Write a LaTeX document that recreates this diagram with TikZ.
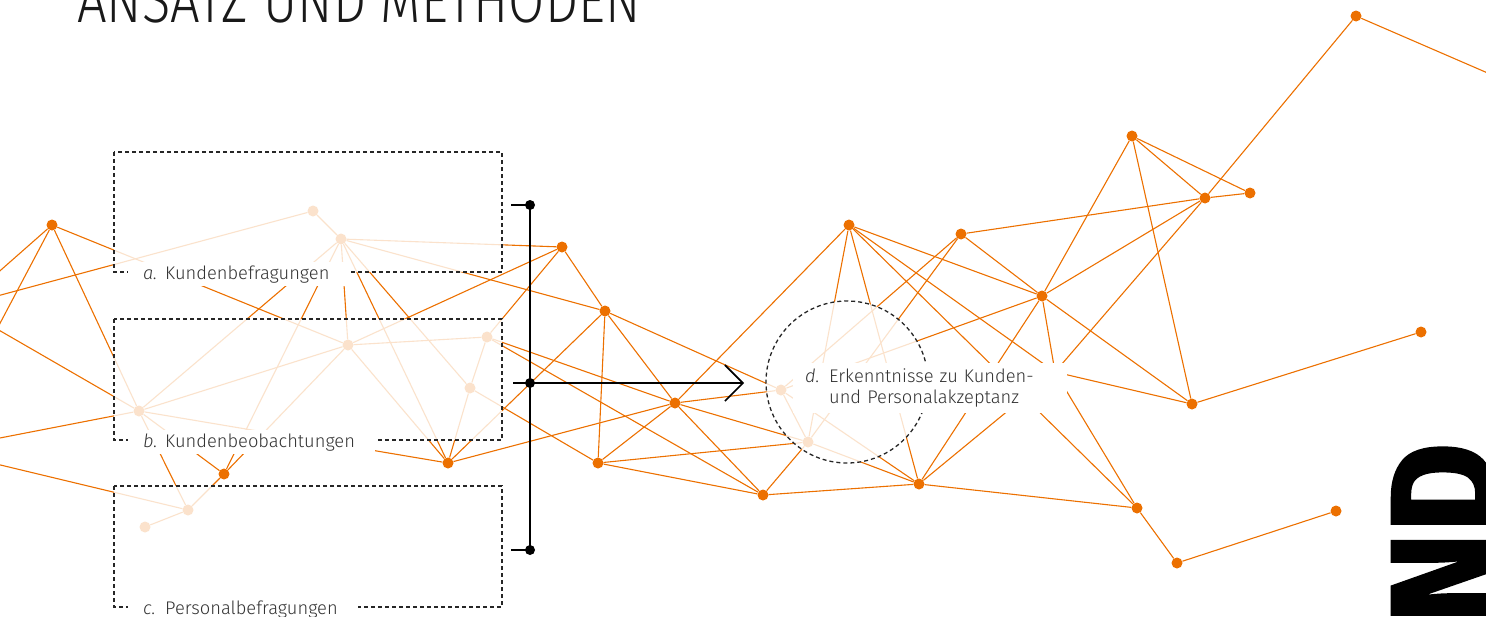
\documentclass[tikz,border=0pt]{standalone}
\usepackage{fontspec}
\usepackage{graphicx}
\usepackage{xcolor}
\usetikzlibrary{arrows.meta}
\setmainfont{Fira Sans Light}
\newfontfamily\titlefont{Fira Sans Light}
\newfontfamily\heavyfont{Fira Sans}[BoldFeatures={FakeBold=2}]
\definecolor{netorange}{HTML}{EC7000}
\definecolor{inkgray}{HTML}{333333}

\begin{document}
\begin{tikzpicture}[x=1pt,y=-1pt,
	dot/.style={circle,fill=netorange,inner sep=0pt,minimum size=11pt},
	link/.style={netorange,line width=1.1pt},
	veil/.style={draw=black!85,dash pattern=on 4pt off 3pt,line width=1.3pt,fill=white,fill opacity=0.8},
	lbl/.style={fill=white,text=inkgray,font=\fontsize{18.3}{21}\selectfont,inner xsep=15pt,inner ysep=3pt},
	bar/.style={black,line width=1.6pt},
	knob/.style={circle,fill=black,inner sep=0pt,minimum size=10pt}]
	\useasboundingbox (0,0) rectangle (1486,616);
	\clip (0,0) rectangle (1486,616);
	\node[anchor=south west,inner sep=0pt,text=black!90](title)at(77,23){\resizebox{563pt}{44pt}{\titlefont ANSATZ UND METHODEN}};
	\node[rotate=90,anchor=north east,inner sep=0pt](nd)at(1392,443){\resizebox{180pt}{102pt}{\heavyfont\bfseries ND}};
	\node[dot](n1)at(52,225){};
	\node[dot](n2)at(562,247){};
	\node[dot](n3)at(605,311){};
	\node[dot](n4)at(675,403){};
	\node[dot](n5)at(598,463){};
	\node[dot](n6)at(763,495){};
	\node[dot](n7)at(849,225){};
	\node[dot](n8)at(961,234){};
	\node[dot](n9)at(1042,296){};
	\node[dot](n10)at(1132,136){};
	\node[dot](n11)at(1205,198){};
	\node[dot](n12)at(1250,193){};
	\node[dot](n13)at(1356,16){};
	\node[dot](n14)at(1421,332){};
	\node[dot](n15)at(1192,404){};
	\node[dot](n16)at(919,484){};
	\node[dot](n17)at(1137,508){};
	\node[dot](n18)at(1177,563){};
	\node[dot](n19)at(1336,511){};
	\node[dot](n20)at(448,463){};
	\node[dot](n21)at(224,474){};
	\node[dot](n22)at(313,211){};
	\node[dot](n23)at(341,239){};
	\node[dot](n24)at(348,345){};
	\node[dot](n25)at(487,337){};
	\node[dot](n26)at(470,388){};
	\node[dot](n27)at(139,411){};
	\node[dot](n28)at(188,510){};
	\node[dot](n29)at(145,527){};
	\node[dot](n30)at(781,390){};
	\node[dot](n31)at(808,442){};
	\coordinate(n32)at(1055,372);
	\coordinate(o1)at(-40,306);
	\coordinate(o2)at(-3,329);
	\coordinate(o3)at(-62,450);
	\coordinate(o4)at(1520,87);
	\foreach \u/\v in {n1/o1,n1/o2,n1/n27,n1/n24,o1/n22,o2/n27,o3/n27,o3/n28,n22/n23,
		n23/n27,n23/n21,n23/n24,n23/n2,n23/n20,n23/n26,n23/n3,
		n24/n25,n24/n2,n24/n20,n24/n21,n24/n27,
		n25/n2,n25/n26,n25/n4,n25/n6,n26/n5,n26/n20,
		n27/n20,n27/n21,n27/n28,n21/n28,n28/n29,
		n20/n3,n20/n4,n2/n3,n3/n4,n3/n5,n3/n30,
		n4/n7,n4/n30,n4/n5,n4/n6,n4/n31,n5/n6,n5/n31,n6/n16,n6/n31,
		n7/n31,n7/n16,n7/n9,n7/n17,n7/n32,
		n8/n11,n8/n9,n8/n30,n8/n31,
		n9/n10,n9/n11,n9/n32,n9/n15,n9/n30,n9/n16,
		n10/n11,n10/n12,n10/n15,n11/n12,n11/n13,n11/n32,n13/o4,
		n15/n14,n15/n32,n16/n32,n16/n17,n16/n31,n16/n30,
		n17/n32,n17/n18,n18/n19,n30/n31}
		\draw[link](\u)--(\v);
	\draw[veil](114,152)rectangle(502,272);
	\draw[veil](114,319)rectangle(502,440);
	\draw[veil](114,486)rectangle(502,607);
	\draw[veil](847,382)circle(81pt);
	\node[lbl,anchor=base west](la)at(128,279){\makebox[22pt][l]{\textit{a.}}Kundenbefragungen\hspace*{5pt}};
	\node[lbl,anchor=base west](lb)at(128,447){\makebox[22pt][l]{\textit{b.}}Kundenbeobachtungen\hspace*{5pt}};
	\node[lbl,anchor=base west](lc)at(128,614){\makebox[22pt][l]{\textit{c.}}Personalbefragungen\hspace*{5pt}};
	\node[lbl,anchor=north west,text width=250pt,inner xsep=12pt,inner ysep=0pt,minimum height=50pt,align=left](ld)at(793,363)
		{\makebox[24pt][l]{\textit{d.}}Erkenntnisse zu Kunden-\\\hspace*{24pt}und Personalakzeptanz};
	\node[knob](top)at(530,205){};
	\node[knob](mid)at(530,383){};
	\node[knob](bot)at(530,550){};
	\coordinate(topend)at(511,205);
	\coordinate(botend)at(511,550);
	\coordinate(midend)at(513,383);
	\coordinate(tip)at(744,383);
	\draw[bar](topend)--(top.center)--(bot.center)--(botend);
	\draw[bar,-{Straight Barb[length=18pt,width=36pt]}](midend)--(tip);
\end{tikzpicture}
\end{document}
